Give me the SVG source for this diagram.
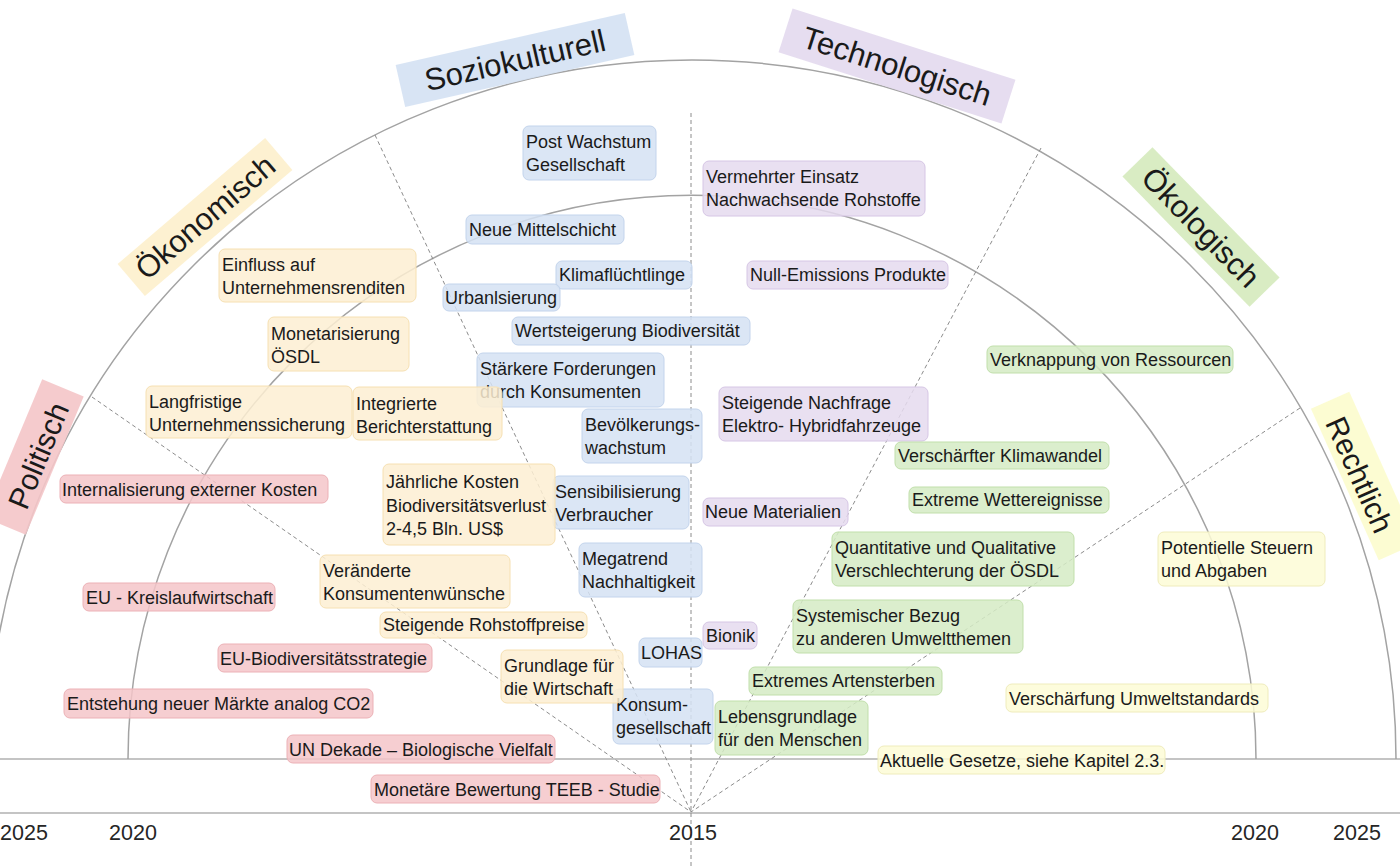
<svg xmlns="http://www.w3.org/2000/svg" width="1400" height="868" viewBox="0 0 1400 868">
<style>
text{font-family:"Liberation Sans",Arial,sans-serif;fill:#1a1a1a}
.n{font-size:18px}
.cat{font-size:31px;text-anchor:middle}
.yr{font-size:21.5px;text-anchor:middle;fill:#262626}
rect.b{rx:6px;ry:6px;stroke-width:1;fill-opacity:0.85}
.blue rect{fill:#d5e2f3;stroke:#c3d4ec}
.purple rect{fill:#e5daee;stroke:#d6c6e5}
.green rect{fill:#d5ebc4;stroke:#c1dfab}
.yellow rect{fill:#fdefd2;stroke:#f6e0b2}
.red rect{fill:#f5c5c9;stroke:#ecb1b6}
.lyellow rect{fill:#fdfcd6;stroke:#efecbc}
.arc{fill:none;stroke:#a3a3a3;stroke-width:1.5}
.hl{stroke:#c4c4c4;stroke-width:2}
.dash{stroke:#8c8c8c;stroke-width:1;stroke-dasharray:4 3;fill:none}
</style>

<g id="connectors">
  <line class="hl" x1="0" y1="759" x2="1400" y2="759"/>
  <line class="hl" x1="0" y1="813" x2="1400" y2="813"/>
  <path class="arc" d="M -12 759 A 704 699 0 0 1 1396 759"/>
  <path class="arc" d="M 128 759 A 564 564 0 0 1 1256 759"/>
  <line class="dash" x1="92" y1="397" x2="691" y2="812"/>
  <line class="dash" x1="375" y1="135" x2="691" y2="812"/>
  <line class="dash" x1="691" y1="113" x2="691" y2="868"/>
  <line class="dash" x1="1041" y1="148" x2="691" y2="812"/>
  <line class="dash" x1="1300" y1="408" x2="691" y2="812"/>
</g>

<g id="years">
  <text class="yr" x="24" y="840">2025</text>
  <text class="yr" x="133" y="840">2020</text>
  <text class="yr" x="693" y="840">2015</text>
  <text class="yr" x="1255" y="840">2020</text>
  <text class="yr" x="1357" y="840">2025</text>
</g>

<g id="cat-sozio" transform="translate(515,60) rotate(-12.8)">
  <rect x="-117.5" y="-21.5" width="235" height="43" fill="#d4e1f3" fill-opacity="0.9"/>
  <text class="cat" x="0" y="11">Soziokulturell</text>
</g>
<g id="cat-tech" transform="translate(897,66) rotate(17.7)">
  <rect x="-117" y="-23" width="234" height="46" fill="#e3d9ee" fill-opacity="0.9"/>
  <text class="cat" x="0" y="11">Technologisch</text>
</g>
<g id="cat-oeko" transform="translate(205,217) rotate(-40.5)">
  <rect x="-97" y="-21" width="194" height="42" fill="#fdf0cc" fill-opacity="0.9"/>
  <text class="cat" x="0" y="11">Ökonomisch</text>
</g>
<g id="cat-oekolog" transform="translate(1201,227) rotate(45.7)">
  <rect x="-91" y="-21" width="182" height="42" fill="#d5eabd" fill-opacity="0.9"/>
  <text class="cat" x="0" y="11">Ökologisch</text>
</g>
<g id="cat-polit" transform="translate(34,457) rotate(-67.3)">
  <rect x="-75" y="-22.5" width="150" height="45" fill="#f4c5c8" fill-opacity="0.9"/>
  <text class="cat" x="3" y="14" style="font-size:30px">Politisch</text>
</g>
<g id="cat-recht" transform="translate(1364,476) rotate(65.9)">
  <rect x="-83" y="-21" width="166" height="42" fill="#fcfccd" fill-opacity="0.9"/>
  <text class="cat" x="-3" y="14" style="font-size:30px">Rechtlich</text>
</g>

<!-- Blue: soziokulturell -->
<g id="b1" class="blue"><rect class="b" x="523" y="126" width="133" height="54"/><text class="n" x="526" y="148">Post Wachstum</text><text class="n" x="526" y="171">Gesellschaft</text></g>
<g id="b2" class="blue"><rect class="b" x="466" y="215" width="158" height="29"/><text class="n" x="469" y="236">Neue Mittelschicht</text></g>
<g id="b3" class="blue"><rect class="b" x="556" y="261" width="136" height="28"/><text class="n" x="559" y="281">Klimaflüchtlinge</text></g>
<g id="b4" class="blue"><rect class="b" x="443" y="284" width="117" height="27"/><text class="n" x="445" y="304">Urbanlsierung</text></g>
<g id="b5" class="blue"><rect class="b" x="512" y="317" width="238" height="28"/><text class="n" x="515" y="337">Wertsteigerung Biodiversität</text></g>
<g id="b6" class="blue"><rect class="b" x="477" y="353" width="187" height="54"/><text class="n" x="480" y="375">Stärkere Forderungen</text><text class="n" x="480" y="398">durch Konsumenten</text></g>
<g id="b7" class="blue"><rect class="b" x="582" y="409" width="120" height="54"/><text class="n" x="585" y="431">Bevölkerungs-</text><text class="n" x="585" y="454">wachstum</text></g>
<g id="b8" class="blue"><rect class="b" x="553" y="476" width="136" height="53"/><text class="n" x="555" y="498">Sensibilisierung</text><text class="n" x="555" y="521">Verbraucher</text></g>
<g id="b9" class="blue"><rect class="b" x="579" y="543" width="123" height="54"/><text class="n" x="582" y="565">Megatrend</text><text class="n" x="582" y="588">Nachhaltigkeit</text></g>
<g id="b10" class="blue"><rect class="b" x="639" y="638" width="63" height="29"/><text class="n" x="641" y="659">LOHAS</text></g>
<g id="b11" class="blue"><rect class="b" x="613" y="689" width="100" height="55"/><text class="n" x="616" y="711">Konsum-</text><text class="n" x="616" y="734">gesellschaft</text></g>

<!-- Purple: technologisch -->
<g id="p1" class="purple"><rect class="b" x="703" y="161" width="222" height="55"/><text class="n" x="706" y="183">Vermehrter Einsatz</text><text class="n" x="706" y="206">Nachwachsende Rohstoffe</text></g>
<g id="p2" class="purple"><rect class="b" x="747" y="261" width="201" height="28"/><text class="n" x="750" y="281">Null-Emissions Produkte</text></g>
<g id="p3" class="purple"><rect class="b" x="719" y="387" width="209" height="54"/><text class="n" x="722" y="409">Steigende Nachfrage</text><text class="n" x="722" y="432">Elektro- Hybridfahrzeuge</text></g>
<g id="p4" class="purple"><rect class="b" x="703" y="498" width="145" height="28"/><text class="n" x="705" y="518">Neue Materialien</text></g>
<g id="p5" class="purple"><rect class="b" x="703" y="622" width="54" height="27"/><text class="n" x="706" y="642">Bionik</text></g>

<!-- Green: oekologisch -->
<g id="g1" class="green"><rect class="b" x="987" y="346" width="246" height="27"/><text class="n" x="990" y="366">Verknappung von Ressourcen</text></g>
<g id="g2" class="green"><rect class="b" x="895" y="442" width="214" height="27"/><text class="n" x="898" y="462">Verschärfter Klimawandel</text></g>
<g id="g3" class="green"><rect class="b" x="909" y="487" width="200" height="26"/><text class="n" x="912" y="506">Extreme Wettereignisse</text></g>
<g id="g4" class="green"><rect class="b" x="832" y="532" width="242" height="54"/><text class="n" x="835" y="554">Quantitative und Qualitative</text><text class="n" x="835" y="577">Verschlechterung der ÖSDL</text></g>
<g id="g5" class="green"><rect class="b" x="793" y="600" width="230" height="53"/><text class="n" x="796" y="622">Systemischer Bezug</text><text class="n" x="796" y="645">zu anderen Umweltthemen</text></g>
<g id="g6" class="green"><rect class="b" x="749" y="667" width="193" height="28"/><text class="n" x="752" y="687">Extremes Artensterben</text></g>
<g id="g7" class="green"><rect class="b" x="715" y="701" width="153" height="54"/><text class="n" x="718" y="723">Lebensgrundlage</text><text class="n" x="718" y="746">für den Menschen</text></g>

<!-- Yellow: oekonomisch -->
<g id="y1" class="yellow"><rect class="b" x="219" y="249" width="197" height="53"/><text class="n" x="222" y="271">Einfluss auf</text><text class="n" x="222" y="294">Unternehmensrenditen</text></g>
<g id="y2" class="yellow"><rect class="b" x="268" y="317" width="141" height="54"/><text class="n" x="271" y="340">Monetarisierung</text><text class="n" x="271" y="363">ÖSDL</text></g>
<g id="y3" class="yellow"><rect class="b" x="146" y="386" width="206" height="52"/><text class="n" x="149" y="408">Langfristige</text><text class="n" x="149" y="431">Unternehmenssicherung</text></g>
<g id="y4" class="yellow"><rect class="b" x="353" y="387" width="149" height="53"/><text class="n" x="356" y="410">Integrierte</text><text class="n" x="356" y="433">Berichterstattung</text></g>
<g id="y5" class="yellow"><rect class="b" x="383" y="464" width="172" height="81"/><text class="n" x="386" y="488">Jährliche Kosten</text><text class="n" x="386" y="512">Biodiversitätsverlust</text><text class="n" x="386" y="535">2-4,5 Bln. US$</text></g>
<g id="y6" class="yellow"><rect class="b" x="320" y="555" width="190" height="53"/><text class="n" x="323" y="577">Veränderte</text><text class="n" x="323" y="600">Konsumentenwünsche</text></g>
<g id="y7" class="yellow"><rect class="b" x="380" y="612" width="207" height="26"/><text class="n" x="383" y="631">Steigende Rohstoffpreise</text></g>
<g id="y8" class="yellow"><rect class="b" x="501" y="650" width="122" height="53"/><text class="n" x="504" y="672">Grundlage für</text><text class="n" x="504" y="695">die Wirtschaft</text></g>

<!-- Red: politisch -->
<g id="r1" class="red"><rect class="b" x="60" y="475" width="268" height="28"/><text class="n" x="62" y="496">Internalisierung externer Kosten</text></g>
<g id="r2" class="red"><rect class="b" x="83" y="583" width="192" height="28"/><text class="n" x="86" y="604">EU - Kreislaufwirtschaft</text></g>
<g id="r3" class="red"><rect class="b" x="218" y="644" width="214" height="28"/><text class="n" x="220" y="665">EU-Biodiversitätsstrategie</text></g>
<g id="r4" class="red"><rect class="b" x="64" y="689" width="309" height="29"/><text class="n" x="67" y="710">Entstehung neuer Märkte analog CO2</text></g>
<g id="r5" class="red"><rect class="b" x="287" y="735" width="268" height="28"/><text class="n" x="289" y="756">UN Dekade – Biologische Vielfalt</text></g>
<g id="r6" class="red"><rect class="b" x="371" y="775" width="289" height="28"/><text class="n" x="374" y="796">Monetäre Bewertung TEEB - Studie</text></g>

<!-- Light yellow: rechtlich -->
<g id="l1" class="lyellow"><rect class="b" x="1158" y="532" width="167" height="54"/><text class="n" x="1161" y="554">Potentielle Steuern</text><text class="n" x="1161" y="577">und Abgaben</text></g>
<g id="l2" class="lyellow"><rect class="b" x="1006" y="684" width="262" height="28"/><text class="n" x="1009" y="705">Verschärfung Umweltstandards</text></g>
<g id="l3" class="lyellow"><rect class="b" x="878" y="746" width="287" height="28"/><text class="n" x="880" y="767">Aktuelle Gesetze, siehe Kapitel 2.3.</text></g>
</svg>
